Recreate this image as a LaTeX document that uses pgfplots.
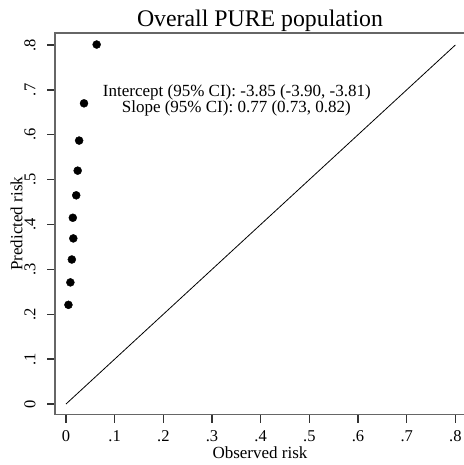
\documentclass[border=0pt]{standalone}
\usepackage{pgfplots}
\pgfplotsset{compat=1.18}
\usepackage{fontspec}
\setmainfont{Liberation Serif}
\begin{document}
\begin{tikzpicture}
\begin{axis}[
  name=ax,
  scale only axis,
  width=410bp, height=381.7bp,
  xmin=-0.0226, xmax=0.8198,
  ymin=-0.0238, ymax=0.8267,
  axis line style={draw=black!60, line width=1.2bp},
  xtick pos=bottom, ytick pos=left,
  xtick align=outside, ytick align=outside,
  xtick={0,0.1,0.2,0.3,0.4,0.5,0.6,0.7,0.8}, ytick={0,0.1,0.2,0.3,0.4,0.5,0.6,0.7,0.8},
  xticklabels={0,.1,.2,.3,.4,.5,.6,.7,.8},
  yticklabels={0,.1,.2,.3,.4,.5,.6,.7,.8},
  major tick length=8bp,
  every tick/.append style={black!80, line width=1.4bp},
  /pgf/number format/assume math mode=true,
  ticklabel style={font=\fontsize{16.5bp}{19bp}\selectfont},
  xticklabel style={anchor=base, yshift=-19bp},
  yticklabel style={xshift=-11.5bp, rotate=90, anchor=base},
  every axis x label/.style={at={(axis description cs:0.5,0)}, anchor=base, yshift=-43.5bp, font=\fontsize{17bp}{20bp}\selectfont},
  every axis y label/.style={at={(axis description cs:0,0.5)}, xshift=-32.5bp, rotate=90, anchor=base, font=\fontsize{17bp}{20bp}\selectfont},
  xlabel={Observed risk},
  ylabel={Predicted risk},
  title={Overall PURE population},
  every axis title/.style={at={(axis description cs:0.5,1)}, anchor=base, yshift=6.3bp, font=\fontsize{23.8bp}{28bp}\selectfont},
  clip=false,
]
\addplot[black, line width=0.8bp] coordinates {(0,0) (0.8,0.8)};
\addplot[only marks, mark=*, mark size=4bp, black] coordinates {
(0.063,0.801) (0.037,0.670) (0.027,0.587) (0.024,0.520) (0.021,0.465)
(0.014,0.415) (0.015,0.369) (0.012,0.322) (0.009,0.271) (0.005,0.221)
};
\node[anchor=base, font=\fontsize{17bp}{20bp}\selectfont] at (axis cs:0.351,0.685) {Intercept (95\% CI): -3.85 (-3.90, -3.81)};
\node[anchor=base, font=\fontsize{17bp}{20bp}\selectfont] at (axis cs:0.350,0.650) {Slope (95\% CI): 0.77 (0.73, 0.82)};
\end{axis}
\pgfresetboundingbox
\path ([shift={(-55bp,-50.3bp)}]ax.south west) rectangle ([shift={(-2bp,33bp)}]ax.north east);
\end{tikzpicture}
\end{document}
